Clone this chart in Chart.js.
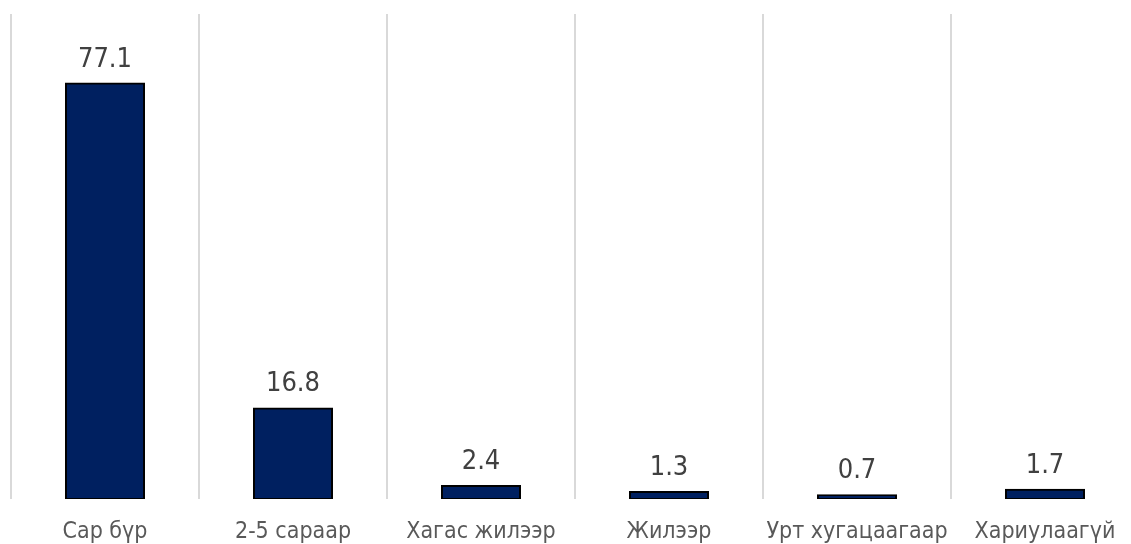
<!DOCTYPE html>
<html>
<head>
<meta charset="utf-8">
<script src="https://cdn.jsdelivr.net/npm/chart.js@4/dist/chart.umd.min.js"></script>
<style>
  html, body { margin: 0; padding: 0; background: #ffffff; overflow: hidden; }
  #wrap { position: relative; width: 1150px; height: 544px; }
</style>
</head>
<body>
<div id="wrap"><canvas id="c"></canvas></div>
<script>
const categories = ["Сар бүр", "2-5 сараар", "Хагас жилээр", "Жилээр", "Урт хугацаагаар", "Хариулаагүй"];
const values = [77.1, 16.8, 2.4, 1.3, 0.7, 1.7];

const FONT = "'DejaVu Sans Condensed', 'DejaVu Sans', sans-serif";

const valueLabels = {
  id: 'valueLabels',
  afterDatasetsDraw(chart) {
    const ctx = chart.ctx;
    const meta = chart.getDatasetMeta(0);
    ctx.save();
    ctx.font = "27px " + FONT;
    ctx.fillStyle = '#404040';
    ctx.textAlign = 'center';
    ctx.textBaseline = 'alphabetic';
    meta.data.forEach((bar, i) => {
      ctx.fillText(values[i].toFixed(1), bar.x, bar.y - 17);
    });
    ctx.restore();
  }
};

new Chart(document.getElementById('c'), {
  type: 'bar',
  data: {
    labels: categories,
    datasets: [{
      data: values,
      backgroundColor: '#002060',
      borderColor: '#000000',
      borderWidth: 2,
      borderSkipped: false,
      inflateAmount: 1,
      barPercentage: 0.415,
      categoryPercentage: 1.0
    }]
  },
  options: {
    responsive: true,
    maintainAspectRatio: false,
    animation: false,
    layout: { padding: { left: 11, right: 11, top: 14, bottom: 0 } },
    plugins: { legend: { display: false }, tooltip: { enabled: false } },
    scales: {
      x: {
        grid: { display: true, offset: true, color: '#d9d9d9', lineWidth: 2, drawTicks: false },
        border: { display: false },
        ticks: { color: '#595959', font: { family: FONT, size: 23 }, padding: 19, maxRotation: 0, autoSkip: false },
        afterFit(scale) { scale.height = 45; }
      },
      y: {
        display: false,
        min: 0,
        max: 90
      }
    }
  },
  plugins: [valueLabels]
});
</script>
</body>
</html>
